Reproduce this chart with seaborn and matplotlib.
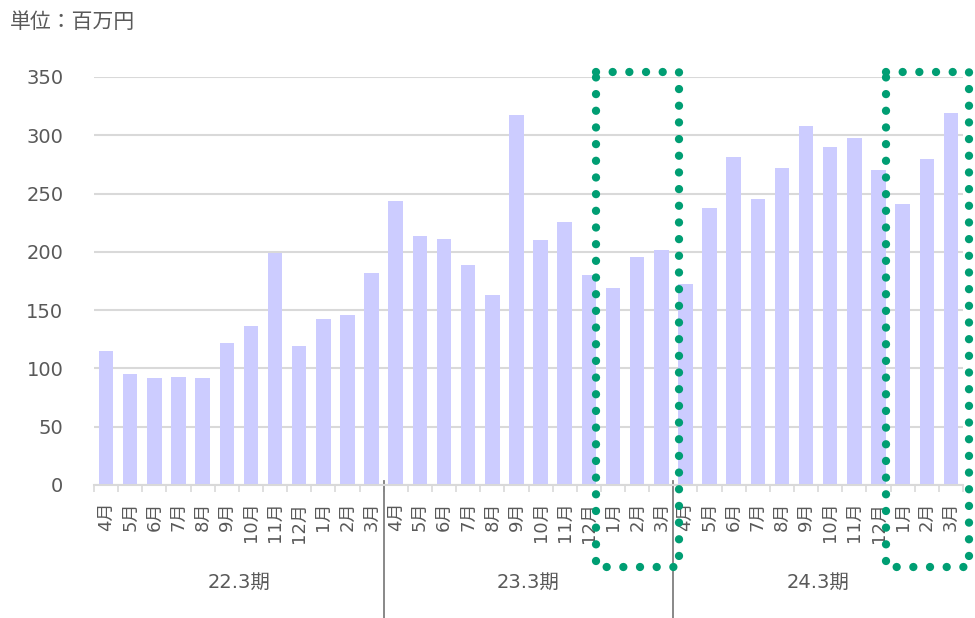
import numpy as np
import pandas as pd
import matplotlib
matplotlib.use("Agg")
import matplotlib.pyplot as plt
import matplotlib.transforms as mtransforms
import seaborn as sns

plt.rcParams['font.family'] = ['DejaVu Sans', 'Noto Sans CJK JP']

# data (百万円)
periods = ['22.3期', '23.3期', '24.3期']
months = ['4月', '5月', '6月', '7月', '8月', '9月', '10月', '11月', '12月', '1月', '2月', '3月']
sales_22 = [115, 95, 92, 93, 92, 122, 136, 199, 119, 142, 146, 182]
sales_23 = [244, 214, 211, 189, 163, 317, 210, 226, 180, 169, 196, 202]
sales_24 = [172, 238, 281, 245, 272, 308, 290, 298, 270, 241, 280, 319]
yticks = [0, 50, 100, 150, 200, 250, 300, 350]
highlight = [(periods[1], '1月', '3月'), (periods[2], '1月', '3月')]

rows = []
for p, vals in zip(periods, [sales_22, sales_23, sales_24]):
    for m, v in zip(months, vals):
        rows.append({'key': p + '-' + m, 'period': p, 'month': m, 'value': v})
df = pd.DataFrame(rows)

text_col = '#595959'
grid_col = '#d9d9d9'
bar_col = '#ccccff'
dot_col = '#009e73'

fig = plt.figure(figsize=(9.75, 6.18), dpi=100)
ax = fig.add_axes([94 / 975, 1 - 485 / 618, (963 - 94) / 975, (485 - 77) / 618])

sns.barplot(data=df, x='key', y='value', color=bar_col, saturation=1, width=0.6, ax=ax)

n = len(df)
ax.set_xlim(-0.5, n - 0.5)
ax.set_ylim(0, 350)
ax.set_yticks(yticks)
ax.yaxis.grid(True, color=grid_col, linewidth=1.5)
ax.set_axisbelow(True)
for s in ['left', 'right', 'top']:
    ax.spines[s].set_visible(False)
ax.spines['bottom'].set_color(grid_col)
ax.spines['bottom'].set_linewidth(1.5)
ax.tick_params(axis='y', length=0, pad=22, labelsize=14, labelcolor=text_col)

ax.set_xticks(range(n))
ax.set_xticklabels(df['month'], rotation=90, fontsize=13, color=text_col)
ax.set_xticks(np.arange(-0.5, n, 1), minor=True)
ax.tick_params(axis='x', which='major', length=0, pad=12)
ax.tick_params(axis='x', which='minor', length=5, color=grid_col, width=1.2)
ax.set_xlabel('')
ax.set_ylabel('')

trans = mtransforms.blended_transform_factory(ax.transData, ax.transAxes)
# period labels and separators
for i, p in enumerate(periods):
    ax.text(i * 12 + 5.5, -0.238, p, transform=trans, ha='center', va='center',
            fontsize=14, color=text_col)
for i in range(1, len(periods)):
    ax.plot([i * 12 - 0.5, i * 12 - 0.5], [0.01, -0.33], transform=trans,
            color='#7f7f7f', lw=1.3, clip_on=False)

# dotted highlight boxes
keys = list(df['key'])
for p, m0, m1 in highlight:
    x0 = keys.index(p + '-' + m0) - 0.7
    x1 = keys.index(p + '-' + m1) + 0.73
    y0, y1 = -70, 354
    ax.plot([x0, x1, x1, x0, x0], [y1, y1, y0, y0, y1], color=dot_col, lw=6,
            linestyle=(0, (0.001, 2.0)), dash_capstyle='round', clip_on=False, zorder=5)

fig.text(10 / 975, 1 - 22 / 618, '単位：百万円', fontsize=15, color=text_col, va='center')

fig.savefig('out.png', dpi=100)
